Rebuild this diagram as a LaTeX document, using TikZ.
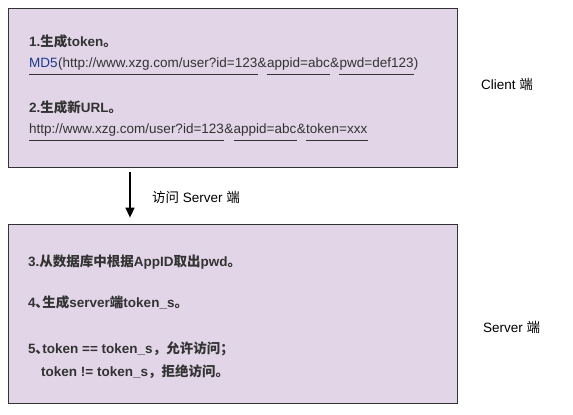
\documentclass[tikz,border=0pt]{standalone}
\usepackage{fontspec}
\setmainfont{Liberation Sans}
\newfontfamily\cjk{Noto Sans CJK SC}
\usetikzlibrary{arrows.meta, positioning}
\definecolor{panelfill}{HTML}{E1D5E7}
\definecolor{inktext}{HTML}{333333}
\definecolor{mdblue}{HTML}{1C3A8C}
\newcommand{\zh}[1]{{\cjk #1}}

\begin{document}
\begin{tikzpicture}[x=1pt, y=-1pt,
  panel/.style={draw=black!80, fill=panelfill, line width=0.8pt,
                minimum width=449pt, minimum height=159pt, inner sep=0pt},
  heading/.style={anchor=base west, inner sep=0pt, text=inktext,
                  font=\fontsize{13.5}{16}\selectfont\bfseries},
  seg/.style={inner sep=0pt, text=inktext, font=\fontsize{13.5}{16}\selectfont},
  uline/.style={draw=inktext, line width=0.9pt},
  side/.style={anchor=base west, inner sep=0pt, font=\fontsize{13.5}{16}\selectfont},
  arrow/.style={-{Triangle[length=10pt, width=9pt]}, line width=1.4pt},
]
  \useasboundingbox (0,0) rectangle (573,415);
  % panels
  \node[panel] (client) at (232.5,87.5) {};
  \node[panel, minimum height=179pt] (server) at (232.5,313.5) {};

  % client steps
  \node[heading] (step1) at (29,46) {1.\zh{生成}token\zh{。}};
  \node[seg, anchor=base west] (md5) at (29,67) {\textcolor{mdblue}{MD5}};
  \node[seg, base right=0pt of md5] (url1) {(http://www.xzg.com/user?id=123};
  \node[seg, base right=0pt of url1] (amp1) {\&};
  \node[seg, base right=0pt of amp1] (appid1) {appid=abc};
  \node[seg, base right=0pt of appid1] (amp2) {\&};
  \node[seg, base right=0pt of amp2] (pwd1) {pwd=def123};
  \node[seg, base right=0pt of pwd1] (close1) {)};
  \draw[uline] ([yshift=-7pt]md5.base west) -- ([yshift=-7pt]url1.base east);
  \draw[uline] ([yshift=-7pt]appid1.base west) -- ([yshift=-7pt]appid1.base east);
  \draw[uline] ([yshift=-7pt]pwd1.base west) -- ([yshift=-7pt]pwd1.base east);

  \node[heading] (step2) at (29,112) {2.\zh{生成新}URL\zh{。}};
  \node[seg, anchor=base west] (url2) at (29,133) {http://www.xzg.com/user?id=123};
  \node[seg, base right=0pt of url2] (amp3) {\&};
  \node[seg, base right=0pt of amp3] (appid2) {appid=abc};
  \node[seg, base right=0pt of appid2] (amp4) {\&};
  \node[seg, base right=0pt of amp4] (token2) {token=xxx};
  \draw[uline] ([yshift=-7pt]url2.base west) -- ([yshift=-7pt]url2.base east);
  \draw[uline] ([yshift=-7pt]appid2.base west) -- ([yshift=-7pt]appid2.base east);
  \draw[uline] ([yshift=-7pt]token2.base west) -- ([yshift=-7pt]token2.base east);

  % server steps
  \node[heading] (step3) at (28,266) {3.\zh{从数据库中根据}AppID\zh{取出}pwd\zh{。}};
  \node[heading] (step4) at (28,307) {4\zh{､生成}server\zh{端}token\_s\zh{。}};
  \node[heading] (step5) at (28,353) {5\zh{､}token == token\_s\zh{，允许访问；}};
  \node[heading] (step5b) at (41,376) {token != token\_s\zh{，拒绝访问。}};

  % request
  \draw[arrow] ([xshift=-102.5pt, yshift=-5pt]client.south) -- ([xshift=-102.5pt, yshift=6pt]server.north);
  \node[side] (visit) at (152,202) {\zh{访问} Server \zh{端}};

  % sides
  \node[side] (clientlbl) at (481,89) {Client \zh{端}};
  \node[side] (serverlbl) at (483,332) {Server \zh{端}};
\end{tikzpicture}
\end{document}
